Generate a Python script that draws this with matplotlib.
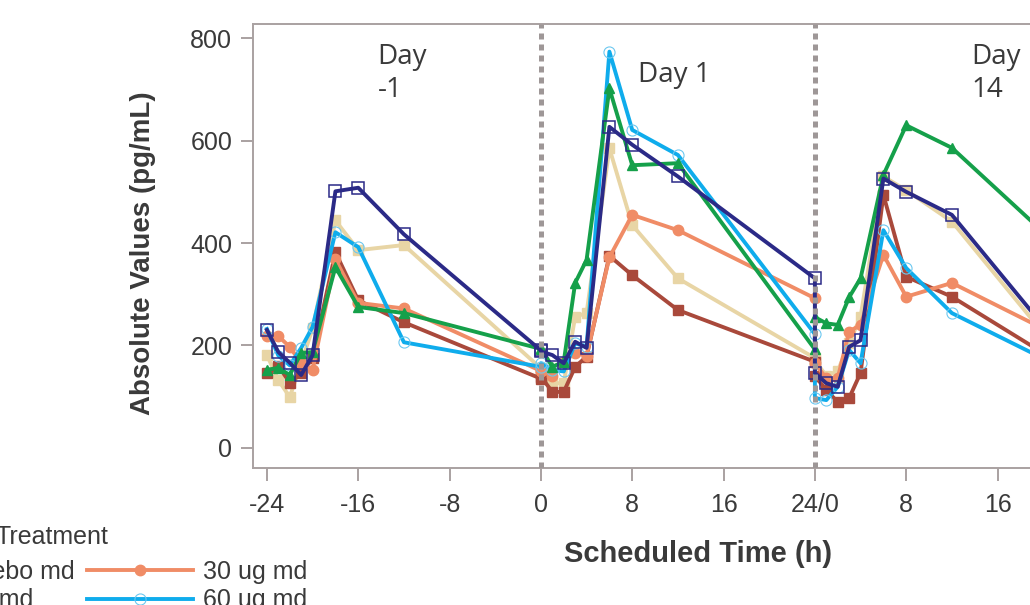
import matplotlib
matplotlib.use('Agg')
import matplotlib.pyplot as plt
from matplotlib.lines import Line2D

plt.rcParams['font.family'] = ['Liberation Sans', 'DejaVu Sans']

# ---------------- data ----------------
hours = [0, 1, 2, 3, 4, 6, 8, 12, 24]
day_offsets = [-24, 0, 24]
day_labels = ['Day\n-1', 'Day 1', 'Day\n14']
day_label_x = [-14.3, 8.5, 37.7]
day_label_y = [790, 756, 790]

treatments = ['Placebo md', '3 ug md', '10 ug md', '30 ug md', '60 ug md', '100 ug md']

# values per treatment: [Day -1, Day 1, Day 14], each at `hours`
placebo = [[146, 160, 127, 145, 175, 382, 288, 245, 135],
           [139, 109, 109, 158, 178, 375, 337, 269, 168],
           [140, 113, 89, 97, 146, 494, 334, 295, 130]]
ug3 = [[181, 132, 99, 165, 233, 444, 386, 396, 155],
       [150, 126, 126, 256, 263, 585, 435, 331, 175],
       [171, 140, 150, 204, 256, 530, 503, 442, 115]]
ug10 = [[230, 187, 166, 142, 181, 501, 508, 417, 190],
        [188, 181, 165, 207, 195, 627, 592, 530, 331],
        [146, 126, 119, 197, 210, 526, 500, 455, 130]]
ug30 = [[218, 218, 197, 165, 152, 368, 283, 272, 150],
        [150, 140, 168, 185, 180, 372, 455, 425, 292],
        [165, 136, 136, 227, 240, 377, 295, 322, 188]]
ug60 = [[232, 180, 161, 195, 236, 421, 392, 206, 158],
        [165, 152, 149, 204, 197, 774, 621, 572, 222],
        [97, 93, 119, 191, 165, 425, 351, 263, 130]]
ug100 = [[152, 156, 142, 185, 187, 353, 275, 263, 193],
         [195, 158, 168, 322, 367, 702, 552, 556, 192],
         [255, 243, 240, 294, 331, 533, 630, 586, 339]]

series_values = [placebo, ug3, ug10, ug30, ug60, ug100]

xtick_pos = [-24, -16, -8, 0, 8, 16, 24, 32, 40, 48]
xtick_lab = ['-24', '-16', '-8', '0', '8', '16', '24/0', '8', '16', '24']
ytick_pos = [0, 200, 400, 600, 800]

# ---------------- styles ----------------
styles = [
    dict(color='#A9493B', marker='s', ms=7, mfc='#A9493B', mec='#A9493B'),
    dict(color='#E8D5A5', marker='s', ms=7, mfc='#E8D5A5', mec='#E8D5A5'),
    dict(color='#2B2A87', marker='s', ms=8, mfc='none', mec='#2B2A87', mew=1.1),
    dict(color='#F08C66', marker='o', ms=7.5, mfc='#F08C66', mec='#F08C66'),
    dict(color='#0FACEC', marker='o', ms=8, mfc='none', mec='#6CC8F0', mew=0.8),
    dict(color='#15A04A', marker='^', ms=7.5, mfc='#15A04A', mec='#15A04A'),
]
draw_order = [1, 0, 3, 4, 5, 2]
lw = 2.8

W, H = 1030, 605
fig = plt.figure(figsize=(W / 100, H / 100), dpi=100)
ax_l, ax_r, ax_b, ax_t = 253, 1106, 468.3, 24
ax = fig.add_axes([ax_l / W, 1 - ax_b / H, (ax_r - ax_l) / W, (ax_b - ax_t) / H])

for i in draw_order:
    xs, ys = [], []
    for off, vals in zip(day_offsets, series_values[i]):
        xs += [h + off for h in hours]
        ys += vals
    ax.plot(xs, ys, lw=lw, zorder=2 + draw_order.index(i), **styles[i])

for xv in [0, 24]:
    ax.axvline(xv, color='#9E9797', lw=3.6, linestyle=(0, (1.2, 1.0)),
               dash_capstyle='butt', zorder=20)

ax.set_xlim(-25.22, 49.5)
ax.set_ylim(-40.3, 828)

spine_c = '#A9A1A1'
for s in ax.spines.values():
    s.set_color(spine_c)
    s.set_linewidth(1.4)

ax.set_xticks(xtick_pos)
ax.set_xticklabels(xtick_lab)
ax.set_yticks(ytick_pos)
ax.tick_params(axis='both', colors=spine_c, labelcolor='#3A3A3A', labelsize=18,
               length=9, width=1.4, direction='out')
ax.tick_params(axis='x', pad=9)
ax.tick_params(axis='y', pad=6)

txt_c = '#3A3A3A'
for lab, xl, yl in zip(day_labels, day_label_x, day_label_y):
    ax.text(xl, yl, lab, fontsize=20, family=['Open Sans', 'DejaVu Sans'],
            color=txt_c, ha='left', va='top', linespacing=1.22)

ax.set_xlabel('Scheduled Time (h)', fontsize=21, fontweight='bold', color=txt_c,
              ha='center', va='center')
ax.xaxis.set_label_coords(698 / W, 1 - 554 / H, transform=fig.transFigure)
ax.set_ylabel('Absolute Values (pg/mL)', fontsize=20, fontweight='bold', color=txt_c,
              ha='center', va='center')
ax.yaxis.set_label_coords(143 / W, 1 - 253 / H, transform=fig.transFigure)

# legend
handles = [Line2D([], [], lw=lw, **styles[i]) for i in range(len(treatments))]
fig.text(-4 / W, 1 - 537 / H, 'Treatment', fontsize=18, color=txt_c, ha='left', va='center')
fig.legend(handles, treatments, ncol=2, loc='upper left',
           bbox_to_anchor=(-173 / W, 1 - 560 / H), frameon=False, fontsize=18,
           handlelength=4.24, handletextpad=0.4, columnspacing=0.5,
           borderpad=0, borderaxespad=0, labelspacing=0.18, labelcolor=txt_c)

fig.savefig('out.png', dpi=100)
